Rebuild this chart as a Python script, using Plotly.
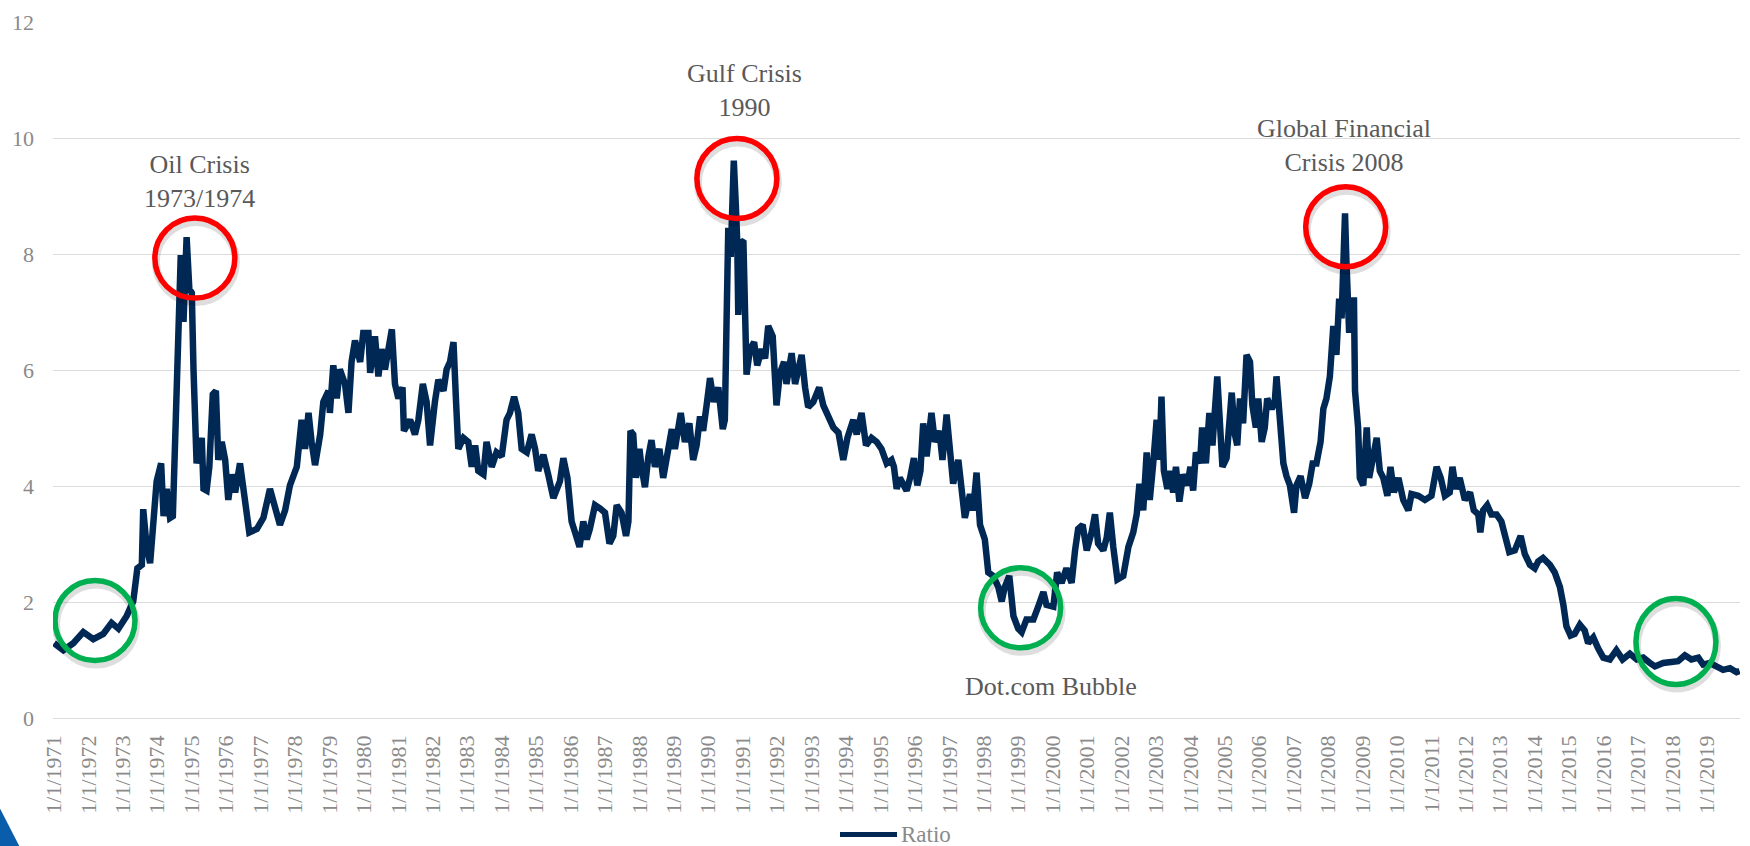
import plotly.graph_objects as go

# ---- data: ratio series (decimal year, value) ----
year = [
    1971.00, 1971.27, 1971.56, 1971.85, 1972.14, 1972.43, 1972.67, 1972.87, 1973.11, 1973.30,
    1973.42, 1973.55, 1973.59, 1973.69, 1973.79, 1973.93, 1973.98, 1974.11, 1974.18, 1974.27,
    1974.37, 1974.45, 1974.51, 1974.61, 1974.68, 1974.76, 1974.80, 1974.85, 1974.93, 1975.00,
    1975.05, 1975.14, 1975.29, 1975.34, 1975.43, 1975.51, 1975.61, 1975.70, 1975.77, 1975.87,
    1975.97, 1976.06, 1976.16, 1976.26, 1976.40, 1976.55, 1976.67, 1976.89, 1977.08, 1977.27,
    1977.42, 1977.56, 1977.71, 1977.85, 1978.05, 1978.19, 1978.29, 1978.39, 1978.48, 1978.58,
    1978.73, 1978.82, 1978.97,
    1979.01, 1979.11, 1979.21, 1979.30, 1979.45, 1979.55, 1979.64, 1979.74, 1979.89, 1979.98,
    1980.13, 1980.18, 1980.32, 1980.42, 1980.51, 1980.61, 1980.81, 1980.90, 1981.00, 1981.12,
    1981.16, 1981.34, 1981.48, 1981.58, 1981.71, 1981.82, 1981.92, 1982.06, 1982.16, 1982.31,
    1982.40, 1982.50, 1982.60, 1982.67, 1982.74, 1982.89, 1983.03, 1983.13, 1983.23, 1983.32,
    1983.47, 1983.56, 1983.71, 1983.85, 1984.00, 1984.14, 1984.24, 1984.36, 1984.48, 1984.58,
    1984.73, 1984.87, 1984.97, 1985.06, 1985.21, 1985.35, 1985.50, 1985.69, 1985.79, 1985.91,
    1986.03, 1986.13, 1986.26, 1986.37, 1986.47, 1986.56, 1986.71, 1986.86, 1987.00, 1987.13,
    1987.24, 1987.34,
    1987.48, 1987.61, 1987.68, 1987.74, 1987.82, 1987.90, 1988.00, 1988.06, 1988.16, 1988.26,
    1988.35, 1988.45, 1988.58, 1988.69, 1988.79, 1988.94, 1989.03, 1989.20, 1989.32, 1989.45,
    1989.56, 1989.66, 1989.76, 1989.85, 1989.95, 1990.05, 1990.16, 1990.29, 1990.42, 1990.48,
    1990.53, 1990.58, 1990.65, 1990.74, 1990.80, 1990.84, 1990.87, 1990.94, 1991.02, 1991.07,
    1991.11, 1991.21, 1991.33, 1991.42, 1991.55, 1991.65, 1991.74, 1991.87, 1991.98, 1992.08,
    1992.20, 1992.27, 1992.42, 1992.52, 1992.61, 1992.71, 1992.81, 1992.90, 1993.05, 1993.22,
    1993.34, 1993.48, 1993.63, 1993.78, 1993.92, 1994.04, 1994.21, 1994.31, 1994.45, 1994.58,
    1994.74, 1994.89, 1995.03, 1995.18, 1995.32,
    1995.39, 1995.47, 1995.56, 1995.76, 1995.86, 1995.97, 1996.07, 1996.16, 1996.24, 1996.34,
    1996.48, 1996.58, 1996.71, 1996.80, 1996.92, 1997.02, 1997.11, 1997.26, 1997.36, 1997.45,
    1997.60, 1997.69, 1997.79, 1997.89, 1998.03, 1998.13, 1998.27, 1998.42, 1998.52, 1998.61,
    1998.74, 1998.86, 1999.00, 1999.10, 1999.24, 1999.44, 1999.58, 1999.73, 1999.82, 2000.02,
    2000.13, 2000.26, 2000.40, 2000.55, 2000.65, 2000.74, 2000.87, 2000.99, 2001.13, 2001.23,
    2001.32, 2001.47, 2001.57, 2001.66, 2001.76, 2001.88, 2002.05, 2002.20, 2002.34, 2002.44,
    2002.52, 2002.63, 2002.73, 2002.82, 2002.92, 2003.02, 2003.10, 2003.16, 2003.23, 2003.33,
    2003.40, 2003.50, 2003.58, 2003.68, 2003.79, 2003.91, 2004.00, 2004.08, 2004.16, 2004.28,
    2004.34, 2004.45, 2004.55, 2004.64, 2004.78, 2004.86, 2004.93, 2005.05, 2005.20, 2005.29,
    2005.36, 2005.44, 2005.53, 2005.63, 2005.73, 2005.80, 2005.90, 2005.97, 2006.07, 2006.16,
    2006.23, 2006.36, 2006.45, 2006.50, 2006.60, 2006.70, 2006.79, 2006.89, 2007.01, 2007.08,
    2007.20, 2007.33, 2007.45, 2007.55, 2007.66, 2007.78, 2007.86, 2007.95, 2008.05, 2008.15,
    2008.24, 2008.32, 2008.39, 2008.46, 2008.49, 2008.53, 2008.61, 2008.68, 2008.75, 2008.78,
    2008.87, 2008.92, 2009.02, 2009.12, 2009.19, 2009.29, 2009.41, 2009.50, 2009.60, 2009.72,
    2009.81, 2009.91, 2010.04, 2010.18, 2010.33, 2010.42, 2010.62, 2010.81, 2011.00, 2011.15,
    2011.27, 2011.39,
    2011.53, 2011.61, 2011.71, 2011.82, 2011.97, 2012.12, 2012.23, 2012.36, 2012.42, 2012.50,
    2012.62, 2012.74, 2012.89, 2013.03, 2013.13, 2013.26, 2013.42, 2013.59, 2013.71, 2013.86,
    2014.00, 2014.10, 2014.24, 2014.44, 2014.58, 2014.73, 2014.83, 2014.92, 2015.04, 2015.16,
    2015.31, 2015.45, 2015.55, 2015.70, 2015.84, 2015.99, 2016.18, 2016.37, 2016.55, 2016.76,
    2016.96, 2017.15, 2017.34, 2017.49, 2017.73, 2017.97, 2018.16, 2018.36, 2018.55, 2018.75,
    2018.89, 2019.08, 2019.28, 2019.47, 2019.67, 2019.86, 2019.95,
]

ratio = [
    1.29, 1.17, 1.29, 1.48, 1.36, 1.45, 1.64, 1.54, 1.76, 2.01,
    2.58, 2.64, 3.60, 2.95, 2.67, 3.51, 4.08, 4.39, 3.48, 3.95,
    3.45, 3.48, 4.83, 6.14, 7.98, 6.83, 7.33, 8.29, 7.39, 7.33,
    6.01, 4.39, 4.83, 3.95, 3.92, 4.33, 5.58, 5.64, 4.45, 4.76,
    4.45, 3.76, 4.20, 3.89, 4.39, 3.61, 3.20, 3.26, 3.45, 3.95,
    3.64, 3.33, 3.58, 4.01, 4.33, 5.14, 4.64, 5.26, 4.76, 4.36,
    4.89, 5.45, 5.64,
    5.26, 6.08, 5.51, 6.01, 5.76, 5.26, 6.14, 6.51, 6.14, 6.64,
    6.64, 5.95, 6.58, 5.89, 6.36, 6.01, 6.70, 5.76, 5.51, 5.70,
    4.95, 5.14, 4.89, 5.14, 5.76, 5.45, 4.70, 5.45, 5.83, 5.64,
    6.01, 6.14, 6.48, 5.51, 4.64, 4.83, 4.76, 4.33, 4.70, 4.26,
    4.20, 4.76, 4.33, 4.58, 4.51, 5.14, 5.26, 5.54, 5.26, 4.64,
    4.58, 4.89, 4.64, 4.26, 4.54, 4.20, 3.79, 4.08, 4.48, 4.14,
    3.39, 3.20, 2.95, 3.39, 3.08, 3.26, 3.67, 3.61, 3.54, 3.01,
    3.14, 3.67,
    3.54, 3.14, 3.39, 4.95, 4.89, 4.14, 4.64, 4.33, 3.98, 4.51,
    4.79, 4.33, 4.64, 4.14, 4.51, 4.98, 4.64, 5.26, 4.76, 5.08,
    4.45, 4.70, 5.20, 4.95, 5.39, 5.86, 5.45, 5.70, 4.98, 5.14,
    6.83, 8.45, 7.95, 9.61, 8.83, 8.20, 6.95, 8.23, 8.20, 6.95,
    5.92, 6.36, 6.48, 6.08, 6.36, 6.20, 6.76, 6.58, 5.39, 5.95,
    6.14, 5.76, 6.29, 5.76, 5.95, 6.26, 5.70, 5.36, 5.45, 5.70,
    5.39, 5.20, 5.01, 4.92, 4.45, 4.83, 5.14, 4.89, 5.26, 4.70,
    4.83, 4.76, 4.64, 4.39, 4.45,
    4.33, 3.95, 4.14, 3.92, 4.14, 4.48, 4.01, 4.26, 5.08, 4.51,
    5.26, 4.76, 4.95, 4.45, 5.23, 4.64, 4.04, 4.45, 4.01, 3.45,
    3.86, 3.58, 4.23, 3.33, 3.08, 2.51, 2.45, 2.26, 2.01, 2.26,
    2.45, 1.76, 1.54, 1.48, 1.70, 1.70, 1.92, 2.17, 1.95, 1.92,
    2.51, 2.33, 2.58, 2.33, 2.89, 3.26, 3.33, 2.89, 3.20, 3.51,
    3.01, 2.89, 3.11, 3.54, 2.95, 2.39, 2.45, 2.95, 3.20, 3.51,
    4.04, 3.58, 4.58, 3.76, 4.39, 5.14, 4.45, 5.54, 4.26, 3.95,
    4.26, 3.89, 4.33, 3.73, 4.20, 4.01, 4.33, 3.92, 4.58, 4.39,
    5.01, 4.39, 5.26, 4.70, 5.89, 5.08, 4.33, 4.48, 5.61, 4.89,
    4.70, 5.51, 5.08, 6.26, 6.14, 5.39, 5.01, 5.51, 4.76, 5.01,
    5.51, 5.33, 5.45, 5.89, 5.26, 4.39, 4.17, 4.01, 3.54, 4.01,
    4.17, 3.79, 4.04, 4.39, 4.39, 4.76, 5.33, 5.51, 5.89, 6.76,
    6.26, 7.23, 6.89, 7.89, 8.70, 7.89, 6.64, 7.20, 7.20, 5.64,
    5.01, 4.14, 4.01, 5.01, 4.14, 4.45, 4.83, 4.26, 4.14, 3.83,
    4.33, 3.89, 4.14, 3.76, 3.58, 3.86, 3.83, 3.76, 3.83, 4.33,
    4.14, 3.83,
    3.89, 4.33, 3.95, 4.14, 3.76, 3.89, 3.58, 3.51, 3.20, 3.58,
    3.67, 3.51, 3.51, 3.39, 3.14, 2.86, 2.89, 3.14, 2.83, 2.64,
    2.58, 2.70, 2.76, 2.64, 2.51, 2.26, 1.95, 1.58, 1.42, 1.45,
    1.61, 1.51, 1.29, 1.39, 1.20, 1.04, 1.01, 1.17, 1.01, 1.11,
    1.01, 1.04, 0.95, 0.89, 0.95, 0.96, 0.98, 1.08, 1.01, 1.04,
    0.92, 0.95, 0.89, 0.83, 0.86, 0.79, 0.81,
]

assert len(year) == len(ratio), (len(year), len(ratio))

tick_years = list(range(1971, 2020))
tick_text = [f"1/1/{y}" for y in tick_years]

# event labels: (text, x, y)
events = [
    ("Oil Crisis<br>1973/1974", 1975.21, 9.25),
    ("Gulf Crisis<br>1990", 1991.06, 10.82),
    ("Global Financial<br>Crisis 2008", 2008.45, 9.87),
    ("Dot.com Bubble", 1999.95, 0.55),
]

# highlight rings: (x, y, colour, half-width px, half-height px)
rings = [
    (1972.19, 1.68, "#00B050", 40, 40),
    (1975.09, 7.93, "#FF0000", 40, 40),
    (1990.83, 9.30, "#FF0000", 40, 40),
    (2008.51, 8.47, "#FF0000", 40, 40),
    (1999.07, 1.90, "#00B050", 40, 40),
    (2018.10, 1.32, "#00B050", 40, 43),
]

LINE_COLOR = "#002855"
TICK_GREY = "#8a8a8a"
TEXT_GREY = "#595959"
SERIF = "Liberation Serif, Times New Roman, serif"

W, H = 1750, 846
ML, MR, MT, MB = 53, 10, 19, 128
PW, PH = W - ML - MR, H - MT - MB


def px_to_paper(px, py):
    return (px - ML) / PW, (H - MB - py) / PH


fig = go.Figure()
fig.add_trace(go.Scatter(
    x=year, y=ratio, mode="lines", name="Ratio",
    line=dict(color=LINE_COLOR, width=6.5),
    showlegend=False,
))

shapes = []
for cx, cy, col, rx, ry in rings:
    # soft drop shadow beneath each ring
    shapes.append(dict(
        type="circle", xref="x", yref="y", xsizemode="pixel", ysizemode="pixel",
        xanchor=cx, yanchor=cy, x0=-rx + 1, x1=rx + 1, y0=-ry - 4, y1=ry - 4,
        line=dict(color="rgba(0,0,0,0.13)", width=8),
    ))
for cx, cy, col, rx, ry in rings:
    shapes.append(dict(
        type="circle", xref="x", yref="y", xsizemode="pixel", ysizemode="pixel",
        xanchor=cx, yanchor=cy, x0=-rx, x1=rx, y0=-ry, y1=ry,
        line=dict(color=col, width=5.5),
    ))

# legend key drawn by hand
lx0, ly = px_to_paper(840, 835)
lx1, _ = px_to_paper(897, 835)
shapes.append(dict(type="line", xref="paper", yref="paper", x0=lx0, x1=lx1, y0=ly, y1=ly,
                   line=dict(color=LINE_COLOR, width=5)))

# corner accent triangle
a = px_to_paper(-2, 805)
b = px_to_paper(-2, 848)
c = px_to_paper(20, 848)
shapes.append(dict(
    type="path", xref="paper", yref="paper",
    path=f"M {a[0]} {a[1]} L {b[0]} {b[1]} L {c[0]} {c[1]} Z",
    fillcolor="#0a5dab", line=dict(width=0),
))

annotations = []
for text, x, y in events:
    annotations.append(dict(
        text=text, x=x, y=y, xref="x", yref="y", showarrow=False,
        font=dict(family=SERIF, size=26, color=TEXT_GREY),
        xanchor="center", yanchor="middle",
    ))
tx, ty = px_to_paper(899, 835)
annotations.append(dict(
    text="Ratio", x=tx, y=ty, xref="paper", yref="paper", showarrow=False,
    xanchor="left", yanchor="middle",
    font=dict(family=SERIF, size=23, color=TICK_GREY),
))

fig.update_layout(
    width=W, height=H,
    margin=dict(l=ML, r=MR, t=MT, b=MB, pad=0),
    paper_bgcolor="white", plot_bgcolor="white",
    shapes=shapes, annotations=annotations,
    showlegend=False,
    xaxis=dict(
        range=[1970.97, 2019.96],
        tickmode="array", tickvals=tick_years, ticktext=tick_text,
        tickangle=-90,
        tickfont=dict(family=SERIF, size=22, color=TICK_GREY),
        showgrid=False, zeroline=False, showline=False, ticks="",
        ticklabelstandoff=12,
    ),
    yaxis=dict(
        range=[0, 12], dtick=2, tick0=0,
        tickfont=dict(family=SERIF, size=22, color=TICK_GREY),
        showgrid=True, gridcolor="#dcdcdc", gridwidth=1.4,
        zeroline=True, zerolinecolor="#dcdcdc", zerolinewidth=1.4,
        showline=False, ticks="",
        ticklabelstandoff=18,
    ),
)

fig.write_html("out.html")
